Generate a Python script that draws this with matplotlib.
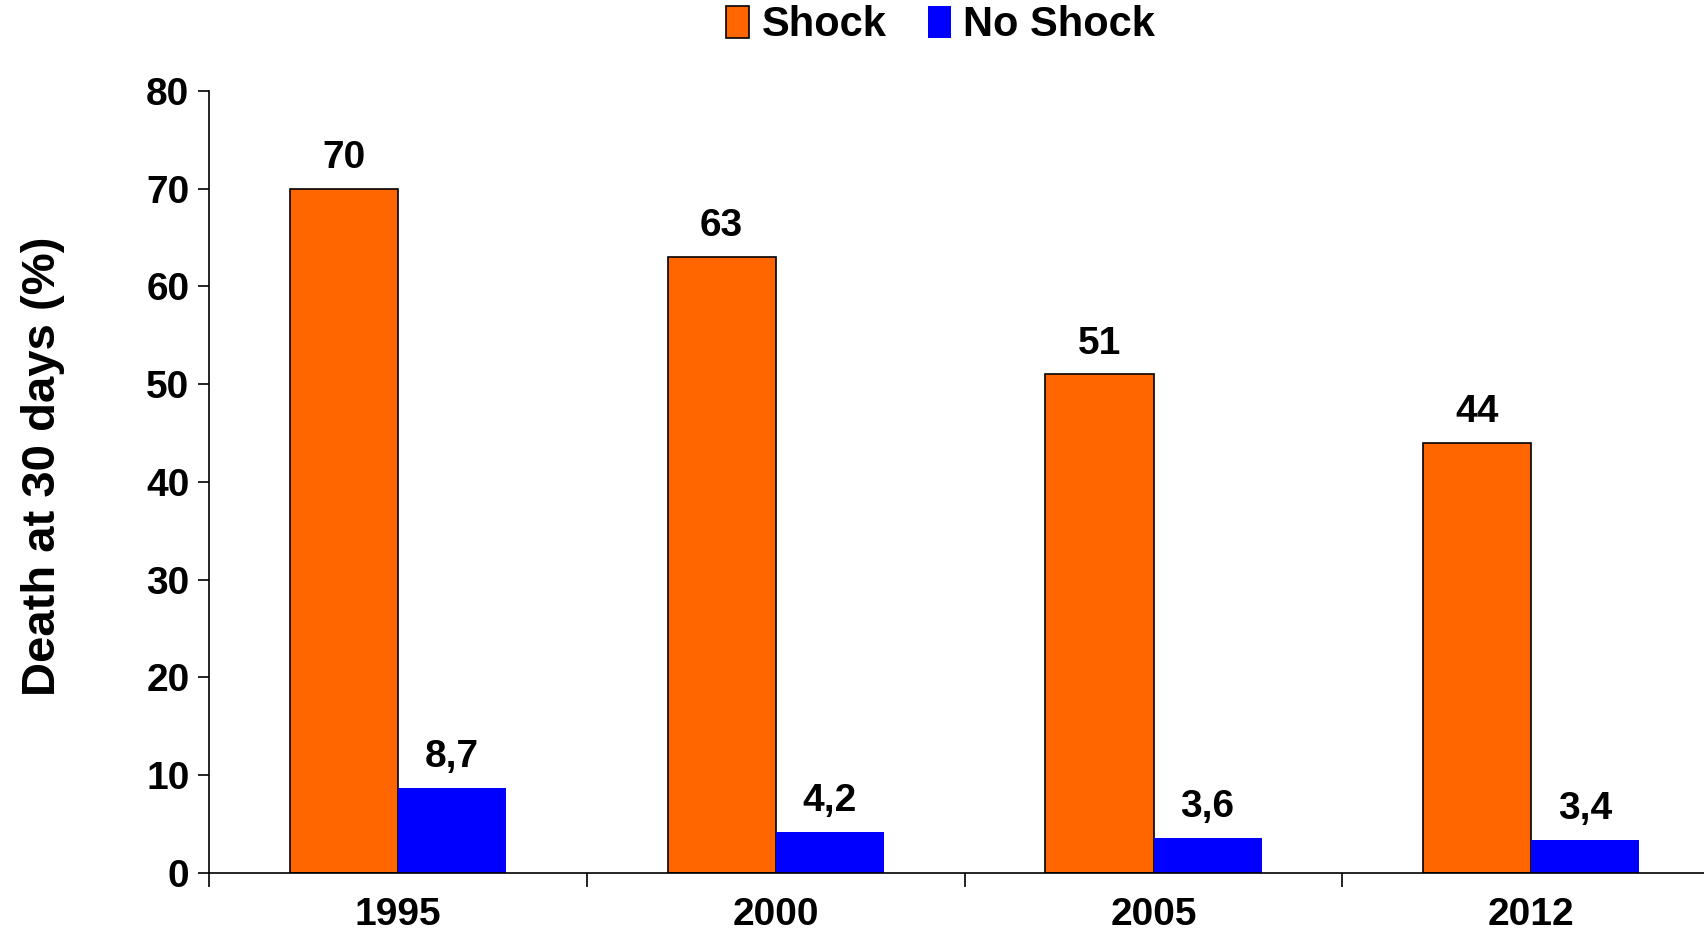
import numpy as np
import matplotlib.pyplot as plt

# Death at 30 days (%) by year, with and without shock
years = ["1995", "2000", "2005", "2012"]
shock = [70, 63, 51, 44]
no_shock = [8.7, 4.2, 3.6, 3.4]

plt.rcParams['font.family'] = ['Liberation Sans', 'DejaVu Sans']
plt.rcParams['font.weight'] = 'bold'

fig = plt.figure(figsize=(17.04, 9.33), dpi=100)
# axis runs off the right side of the figure
ax = fig.add_axes([0.1226, 0.0643, 0.887, 0.8382])

x = np.arange(len(years))
w = 0.286
b1 = ax.bar(x - w / 2, shock, w, color='#FF6600', edgecolor='black', linewidth=1.2, label='Shock')
b2 = ax.bar(x + w / 2, no_shock, w, color='#0000FF', linewidth=0, label='No Shock')

def fmt(v):
    return f"{v:g}".replace('.', ',')

for xi, v in zip(x, shock):
    ax.text(xi - w / 2, v + 1.3, fmt(v), ha='center', va='bottom', fontsize=28, fontweight='bold')
for xi, v in zip(x, no_shock):
    ax.text(xi + w / 2, v + 1.3, fmt(v), ha='center', va='bottom', fontsize=28, fontweight='bold')

ax.set_xlim(-0.5, 3.5)
ax.set_ylim(0, 80)
ax.set_yticks(range(0, 81, 10))
ax.tick_params(axis='y', labelsize=28, length=8, width=1.2, pad=6)

# ticks between groups, labels under group centres
ax.set_xticks(np.arange(-0.5, 4.0, 1.0))
ax.set_xticklabels([])
ax.tick_params(axis='x', which='major', length=10, width=1.2, direction='out')
ax.set_xticks(x, minor=True)
ax.set_xticklabels(years, minor=True, fontsize=28, fontweight='bold')
ax.tick_params(axis='x', which='minor', length=0, pad=17)

for lab in ax.get_yticklabels():
    lab.set_fontweight('bold')

ax.spines['top'].set_visible(False)
ax.spines['right'].set_visible(False)
ax.spines['left'].set_linewidth(1.2)
ax.spines['bottom'].set_linewidth(1.2)

fig.text(0.025, 0.5, "Death at 30 days (%)", rotation=90, ha='center', va='center',
         fontsize=34, fontweight='bold')

fig.legend(handles=[b1, b2], loc='center', bbox_to_anchor=(0.552, 0.973), ncol=2,
           frameon=False, handlelength=0.55, handleheight=0.8,
           handletextpad=0.3, columnspacing=1.0, prop={'weight': 'bold', 'size': 30})

fig.savefig('out.png', dpi=100)
